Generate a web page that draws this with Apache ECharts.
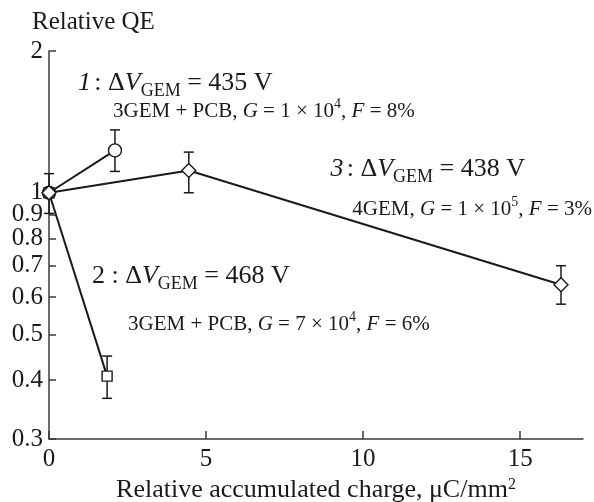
<!DOCTYPE html>
<html>
<head>
<meta charset="utf-8">
<script src="https://cdn.jsdelivr.net/npm/echarts@6/dist/echarts.min.js"></script>
<style>
  html, body { margin: 0; padding: 0; background: #fff; }
  #chart { width: 594px; height: 502px; }
</style>
</head>
<body>
<div id="chart"></div>
<script>
// Tick values for the logarithmic QE axis and the linear charge axis
const yTicks = [0.3, 0.4, 0.5, 0.6, 0.7, 0.8, 0.9, 1, 2];
const xMin = 0, xMax = 17, xStep = 5;

// Curve 1: ΔV_GEM = 435 V, 3GEM + PCB
const s1Charge = [0, 2.1];
const s1QE     = [1, 1.23];
const s1Low    = [0.904, 1.11];
const s1High   = [1.098, 1.36];

// Curve 2: ΔV_GEM = 468 V, 3GEM + PCB
const s2Charge = [0, 1.85];
const s2QE     = [1, 0.408];
const s2Low    = [null, 0.366];
const s2High   = [null, 0.45];

// Curve 3: ΔV_GEM = 438 V, 4GEM
const s3Charge = [0, 4.45, 16.3];
const s3QE     = [1, 1.115, 0.638];
const s3Low    = [null, 1.0, 0.58];
const s3High   = [null, 1.22, 0.70];

const FONT = '"Liberation Serif", "DejaVu Serif", serif';
const INK = '#1a1a1a';
const AXIS = '#3a3a3a';

const pts = (xs, ys) => xs.map((x, i) => [x, ys[i]]);
const bars = (xs, lo, hi) => xs.map((x, i) => [x, lo[i], hi[i]]).filter(d => d[1] != null);

// Vertical error bar with short horizontal caps
function errorBar(params, api) {
  const x = api.value(0);
  const lo = api.coord([x, api.value(1)]);
  const hi = api.coord([x, api.value(2)]);
  const cap = 5;
  const style = { stroke: INK, lineWidth: 1.5 };
  return {
    type: 'group',
    children: [
      { type: 'line', shape: { x1: lo[0], y1: lo[1], x2: hi[0], y2: hi[1] }, style },
      { type: 'line', shape: { x1: lo[0] - cap, y1: lo[1], x2: lo[0] + cap, y2: lo[1] }, style },
      { type: 'line', shape: { x1: hi[0] - cap, y1: hi[1], x2: hi[0] + cap, y2: hi[1] }, style }
    ]
  };
}

function curve(name, data, symbol, size) {
  return {
    name, type: 'line', data, symbol, symbolSize: size, z: 3,
    lineStyle: { color: INK, width: 2 },
    itemStyle: { color: '#fff', borderColor: INK, borderWidth: 1.4 },
    emphasis: { disabled: true }, animation: false
  };
}

function bar(data) {
  return {
    type: 'custom', renderItem: errorBar, data, z: 2,
    encode: { x: 0, y: [1, 2] }, animation: false, silent: true
  };
}

const rich = {
  n:   { fontFamily: FONT, fontSize: 26, color: INK, lineHeight: 34 },
  i:   { fontFamily: FONT, fontSize: 26, color: INK, lineHeight: 34, fontStyle: 'italic' },
  sub: { fontFamily: FONT, fontSize: 18, color: INK, lineHeight: 20, verticalAlign: 'bottom' },
  s:   { fontFamily: FONT, fontSize: 21, color: INK, lineHeight: 28 },
  si:  { fontFamily: FONT, fontSize: 21, color: INK, lineHeight: 28, fontStyle: 'italic' },
  sup: { fontFamily: FONT, fontSize: 14, color: INK, lineHeight: 14, verticalAlign: 'top' }
};

function label(pos, text) {
  return Object.assign({ type: 'text', z: 10, style: { text, rich, fill: INK } }, pos);
}

const chart = echarts.init(document.getElementById('chart'), null, { renderer: 'canvas' });
chart.setOption({
  backgroundColor: '#fff',
  animation: false,
  grid: { left: 49, right: 11, top: 51, bottom: 63, outerBoundsMode: 'none', containLabel: false },
  xAxis: {
    type: 'value', min: xMin, max: xMax, interval: xStep,
    name: 'Relative accumulated charge, μC/mm{sup|2}',
    nameLocation: 'middle', nameGap: 32,
    nameTextStyle: {
      fontFamily: FONT, fontSize: 26, color: INK,
      rich: { sup: { fontFamily: FONT, fontSize: 16, color: INK, verticalAlign: 'top', lineHeight: 16 } }
    },
    axisLine: { lineStyle: { color: AXIS, width: 1.5 } },
    axisTick: { inside: true, length: 8, lineStyle: { color: AXIS, width: 1.5 } },
    axisLabel: { fontFamily: FONT, fontSize: 25, color: INK, margin: 8, showMaxLabel: false },
    splitLine: { show: false }
  },
  yAxis: {
    type: 'log', logBase: 10, min: 0.3, max: 2,
    name: 'Relative QE', nameLocation: 'end', nameGap: 16,
    nameTextStyle: { fontFamily: FONT, fontSize: 25, color: INK, align: 'left', padding: [0, 0, 0, -17] },
    axisLine: { show: true, lineStyle: { color: AXIS, width: 1.5 } },
    axisTick: { show: true, inside: true, length: 7, customValues: yTicks, lineStyle: { color: AXIS, width: 1.5 } },
    axisLabel: {
      fontFamily: FONT, fontSize: 25, color: INK, margin: 6, customValues: yTicks,
      formatter: v => String(+(+v).toPrecision(3))
    },
    splitLine: { show: false }
  },
  series: [
    bar(bars(s1Charge, s1Low, s1High)),
    bar(bars(s2Charge, s2Low, s2High)),
    bar(bars(s3Charge, s3Low, s3High)),
    curve('1', pts(s1Charge, s1QE), 'circle', 13),
    curve('2', pts(s2Charge, s2QE), 'rect', 10),
    curve('3', pts(s3Charge, s3QE), 'diamond', 14)
  ],
  graphic: [
    label({ left: 78, top: 70 }, '{i|1} {n|: Δ}{i|V}{sub|GEM}{n| = 435 V}'),
    label({ left: 113, top: 97 }, '{s|3GEM + PCB, }{si|G}{s| = 1 × 10}{sup|4}{s|, }{si|F}{s| = 8%}'),
    label({ right: 69, top: 156 }, '{i|3} {n|: Δ}{i|V}{sub|GEM}{n| = 438 V}'),
    label({ right: 2, top: 195 }, '{s|4GEM, }{si|G}{s| = 1 × 10}{sup|5}{s|, }{si|F}{s| = 3%}'),
    label({ left: 92, top: 263 }, '{n|2 : Δ}{i|V}{sub|GEM}{n| = 468 V}'),
    label({ left: 128, top: 310 }, '{s|3GEM + PCB, }{si|G}{s| = 7 × 10}{sup|4}{s|, }{si|F}{s| = 6%}')
  ]
});
</script>
</body>
</html>
